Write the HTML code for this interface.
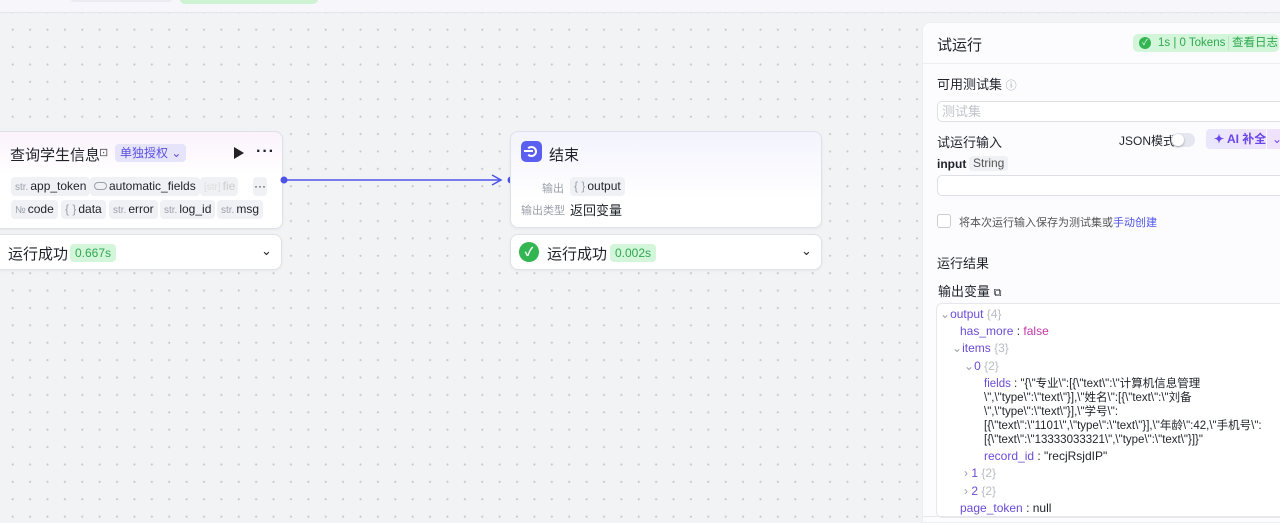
<!DOCTYPE html>
<html style="width:1280px;height:523px;overflow:hidden"><head><meta charset="utf-8">
<style>
*{box-sizing:border-box;margin:0;padding:0}
body{width:1280px;height:523px;overflow:hidden;position:relative;font-family:"Liberation Sans","Noto Sans CJK SC",sans-serif;color:#1f2329;background:#f2f3f5;
background-image:radial-gradient(circle,#c4c7cf 0.9px,transparent 1.2px);background-size:17.4px 17.4px;background-position:4px 21px}
.a{position:absolute}
.top{left:0;top:0;width:1280px;height:13px;background:#f7f7fb;border-bottom:1px solid #e3e5ec}
.card{background:#fff;border:1px solid #dfe1e8;border-radius:8px;box-shadow:0 1px 3px rgba(0,0,0,.05)}
.tag{position:absolute;height:19px;background:#f0f1f5;border-radius:4px;font-size:12px;line-height:19px;padding:0 4px;color:#1f2329;white-space:nowrap}
.tag i{font-style:normal;color:#9aa0aa;font-size:10px;margin-right:2px}
.g{color:#9aa0aa}
.json{font-size:12px;line-height:17.3px}
.k{color:#6b4bd8}.n{color:#b9bcc4}
</style></head><body>
<div class="a top"></div>
<div class="a" style="left:70px;top:-8px;width:103px;height:10px;background:#ebecf2;border-radius:4px"></div>
<div class="a" style="left:180px;top:-8px;width:138px;height:12px;background:#cdf3d2;border-radius:5px"></div>

<!-- node 1 -->
<div class="a card" style="left:-10px;top:131px;width:293px;height:98px;background:linear-gradient(180deg,#fbf2fc,#fff 45%)">
 <div class="a" style="left:19px;top:12px;font-size:15px;">查询学生信息</div>
 <div class="a" style="left:108px;top:14px;font-size:11px;color:#555">⊡</div>
 <div class="a" style="left:124px;top:12px;height:18px;background:#e6e4fb;border-radius:4px;color:#5b4fe0;font-size:12px;line-height:18px;padding:0 5px">单独授权 ⌄</div>
 <div class="a" style="left:243px;top:15px;width:0;height:0;border-left:10px solid #222;border-top:6px solid transparent;border-bottom:6px solid transparent"></div>
 <div class="a" style="left:265px;top:11px;font-size:16px;font-weight:bold;letter-spacing:1px">···</div>
 <div class="tag" style="left:20px;top:45px"><i>str.</i>app_token</div>
 <div class="tag" style="left:99px;top:45px"><i style="display:inline-block;width:13px;height:8px;border:1px solid #9aa0aa;border-radius:4px;vertical-align:0"></i>automatic_fields</div>
 <div class="tag" style="left:209px;top:45px;color:#ccc;width:38px;overflow:hidden"><i style="color:#ddd">[str]</i>fie</div>
 <div class="tag" style="left:262px;top:45px;width:14px;padding:0;text-align:center">···</div>
 <div class="tag" style="left:20px;top:68px"><i>№</i>code</div>
 <div class="tag" style="left:70px;top:68px"><i style="font-size:12px">{ }</i>data</div>
 <div class="tag" style="left:118px;top:68px"><i>str.</i>error</div>
 <div class="tag" style="left:169px;top:68px"><i>str.</i>log_id</div>
 <div class="tag" style="left:226px;top:68px"><i>str.</i>msg</div>
</div>
<div class="a card" style="left:-10px;top:234px;width:292px;height:36px">
 <div class="a" style="left:17px;top:8px;font-size:15px">运行成功</div>
 <div class="a" style="left:79px;top:9px;height:18px;background:#d3f5da;color:#2fa84f;border-radius:4px;font-size:12px;line-height:18px;padding:0 5px">0.667s</div>
 <div class="a" style="left:270px;top:8px;font-size:13px">⌄</div>
</div>

<!-- connector -->
<svg class="a" style="left:278px;top:172px" width="240" height="16">
 <circle cx="6" cy="8" r="3.5" fill="#4d53e8"/>
 <line x1="9" y1="8" x2="222" y2="8" stroke="#4d53e8" stroke-width="1.5"/>
 <path d="M214 3 L223 8 L214 13" fill="none" stroke="#4d53e8" stroke-width="1.5"/>
 <circle cx="233" cy="8" r="3.5" fill="#4d53e8"/>
</svg>

<!-- node 2 -->
<div class="a card" style="left:510px;top:131px;width:312px;height:97px;background:linear-gradient(180deg,#f3f3fd,#fff 70%)">
 <div class="a" style="left:10px;top:9px;width:21px;height:21px;background:#5a5ff0;border-radius:5px"><span class="a" style="left:5px;top:5px;width:11px;height:11px;border:2px solid #fff;border-radius:50%;border-left-color:transparent"></span><span class="a" style="left:3px;top:9px;width:9px;height:2px;background:#fff"></span></div>
 <div class="a" style="left:38px;top:12px;font-size:15px">结束</div>
 <div class="a g" style="left:31px;top:48px;font-size:11px">输出</div>
 <div class="tag" style="left:59px;top:45px"><i style="font-size:12px">{ }</i>output</div>
 <div class="a g" style="left:10px;top:70px;font-size:11px">输出类型</div>
 <div class="a" style="left:59px;top:68px;font-size:13px">返回变量</div>
</div>
<div class="a card" style="left:510px;top:234px;width:312px;height:36px">
 <div class="a" style="left:8px;top:7px;width:20px;height:20px;border-radius:50%;background:#33b652;color:#fff;font-size:12px;text-align:center;line-height:20px;font-weight:bold">✓</div>
 <div class="a" style="left:36px;top:8px;font-size:15px">运行成功</div>
 <div class="a" style="left:99px;top:9px;height:18px;background:#d3f5da;color:#2fa84f;border-radius:4px;font-size:12px;line-height:18px;padding:0 5px">0.002s</div>
 <div class="a" style="left:290px;top:8px;font-size:13px">⌄</div>
</div>

<!-- panel -->
<div class="a" style="left:922px;top:22px;width:370px;height:501px;background:#fcfcff;border-radius:8px 0 0 0;border:1px solid #eceef3;overflow:hidden">
 <div class="a" style="left:14px;top:11px;font-size:15px">试运行</div>
 <div class="a" style="left:210px;top:11px;width:146px;height:18px;background:#d3f5da;border-radius:5px;font-size:11.5px;line-height:18px;color:#2fa84f">
  <span class="a" style="left:6px;top:3px;width:12px;height:12px;border-radius:50%;background:#33b652;color:#fff;font-size:8px;line-height:12px;text-align:center">✓</span>
  <span class="a" style="left:25px;white-space:nowrap">1s | 0 Tokens</span>
  <span class="a" style="left:95px;top:2px;width:1px;height:14px;background:#b9e6c3"></span>
  <span class="a" style="left:99px;white-space:nowrap">查看日志</span>
 </div>
 <div class="a" style="left:-1px;top:40px;width:372px;height:1px;background:#eceef3"></div>
 <div class="a" style="left:14px;top:51px;font-size:13px">可用测试集 <span class="g" style="font-size:11px">ⓘ</span></div>
 <div class="a" style="left:14px;top:78px;width:350px;height:21px;border:1px solid #dcdfe6;border-radius:5px;background:#fff;font-size:13px;color:#c0c4cc;line-height:19px;padding-left:4px">测试集<span class="a" style="left:340px;top:0;color:#999;font-size:11px">⌄</span></div>
 <div class="a" style="left:14px;top:109px;font-size:13px">试运行输入</div>
 <div class="a" style="left:196px;top:109px;font-size:12px">JSON模式</div>
 <div class="a" style="left:248px;top:110px;width:24px;height:14px;border-radius:7px;background:#e4e6f0"><span class="a" style="left:1px;top:1px;width:12px;height:12px;border-radius:50%;background:#fff;box-shadow:0 1px 2px rgba(0,0,0,.3)"></span></div>
 <div class="a" style="left:283px;top:106px;width:90px;height:20px;border-radius:4px;background:linear-gradient(90deg,#e9e7fd,#f3e1fb);color:#6a45e8;font-size:12px;line-height:20px;padding-left:8px;font-weight:bold">✦ AI 补全<span class="a" style="left:60px;top:0;width:1px;height:20px;background:#fff"></span><span class="a" style="left:66px;font-weight:normal">⌄</span></div>
 <div class="a" style="left:14px;top:134px;font-size:12px;font-weight:bold">input</div>
 <div class="a" style="left:46px;top:133px;height:15px;background:#f0f1f5;border-radius:3px;font-size:12px;line-height:15px;padding:0 4px;color:#555">String</div>
 <div class="a" style="left:14px;top:152px;width:350px;height:21px;border:1px solid #dcdfe6;border-radius:5px;background:#fff"></div>
 <div class="a" style="left:14px;top:191px;width:14px;height:14px;border:1px solid #c9ccd4;border-radius:3px;background:#fff"></div>
 <div class="a" style="left:36px;top:191px;font-size:11px;color:#555">将本次运行输入保存为测试集或<span style="color:#4d53e8">手动创建</span></div>
 <div class="a" style="left:14px;top:230px;font-size:13px">运行结果</div>
 <div class="a" style="left:15px;top:258px;font-size:13px">输出变量 <span style="font-size:11px">⧉</span></div>
 <div class="a json" style="left:13px;top:280px;width:360px;height:215px;border:1px solid #e6e8ee;border-radius:6px;background:#fff">
  <div class="a" style="left:3px;top:2px"><span class="g">⌄</span><span class="k">output</span> <span class="n">{4}</span></div>
  <div class="a" style="left:23px;top:19px"><span class="k">has_more</span> : <span style="color:#c037a8">false</span></div>
  <div class="a" style="left:15px;top:36px"><span class="g">⌄</span><span class="k">items</span> <span class="n">{3}</span></div>
  <div class="a" style="left:27px;top:54px"><span class="g">⌄</span><span class="k">0</span> <span class="n">{2}</span></div>
  <div class="a" style="left:47px;top:73px;white-space:nowrap;line-height:14px;font-size:11.5px"><span class="k">fields</span> : "{\"专业\":[{\"text\":\"计算机信息管理<br>\",\"type\":\"text\"}],\"姓名\":[{\"text\":\"刘备<br>\",\"type\":\"text\"}],\"学号\":<br>[{\"text\":\"1101\",\"type\":\"text\"}],\"年龄\":42,\"手机号\":<br>[{\"text\":\"13333033321\",\"type\":\"text\"}]}"</div>
  <div class="a" style="left:47px;top:144px"><span class="k">record_id</span> : "recjRsjdIP"</div>
  <div class="a" style="left:27px;top:161px"><span class="g">›</span> <span class="k">1</span> <span class="n">{2}</span></div>
  <div class="a" style="left:27px;top:179px"><span class="g">›</span> <span class="k">2</span> <span class="n">{2}</span></div>
  <div class="a" style="left:23px;top:196px"><span class="k">page_token</span> : null</div>
 </div>
</div>
<div class="a" style="left:922px;top:516px;width:358px;height:1px;background:#e6e8ee"></div>
</body></html>
